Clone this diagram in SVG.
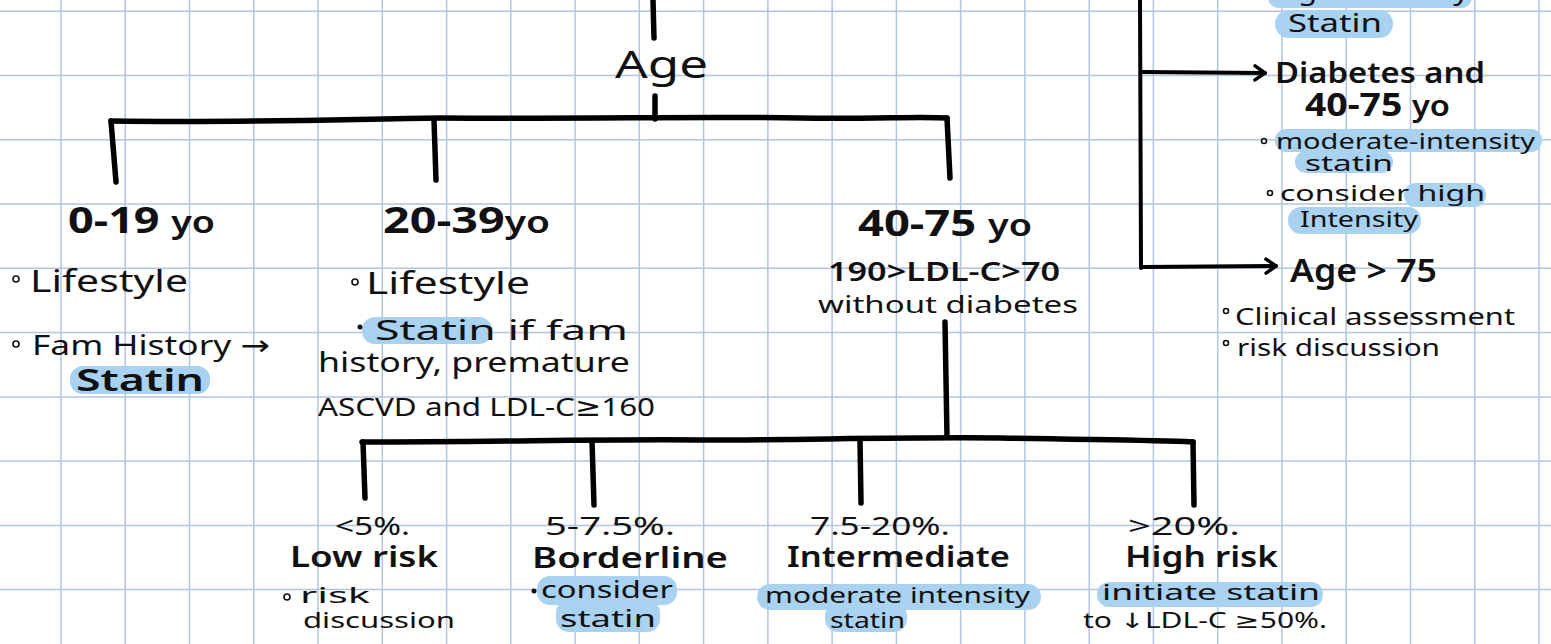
<svg xmlns="http://www.w3.org/2000/svg" width="1551" height="644" viewBox="0 0 1551 644">
<defs>
<style>
.t{font-family:"Noto Sans","DejaVu Sans",sans-serif;fill:#111;font-weight:400}
.b{font-weight:700}
.m{font-weight:600}
.g line{stroke:#b2c4e1;stroke-width:1.5}
.w{stroke:#000;stroke-width:5.5;fill:none;stroke-linecap:round;stroke-linejoin:round}
.a{stroke:#000;stroke-width:4;fill:none;stroke-linecap:round;stroke-linejoin:round}
.hl{fill:#a9d2f1}
.dot{fill:none;stroke:#111;stroke-width:1.6}
</style>
<marker id="chev" viewBox="0 0 14 18" refX="12" refY="9" markerWidth="14" markerHeight="18" markerUnits="userSpaceOnUse" orient="auto">
<path d="M2,2 L12,9 L2,16" fill="none" stroke="#000" stroke-width="3.5" stroke-linecap="round" stroke-linejoin="round"/>
</marker>
</defs>
<rect width="1551" height="644" fill="#ffffff"/>
<g class="g" id="grid">
<line x1="61" y1="0" x2="61" y2="644"/><line x1="125.3" y1="0" x2="125.3" y2="644"/><line x1="189.5" y1="0" x2="189.5" y2="644"/><line x1="253.8" y1="0" x2="253.8" y2="644"/><line x1="318" y1="0" x2="318" y2="644"/><line x1="382.3" y1="0" x2="382.3" y2="644"/><line x1="446.6" y1="0" x2="446.6" y2="644"/><line x1="510.8" y1="0" x2="510.8" y2="644"/><line x1="575.1" y1="0" x2="575.1" y2="644"/><line x1="639.3" y1="0" x2="639.3" y2="644"/><line x1="703.6" y1="0" x2="703.6" y2="644"/><line x1="767.9" y1="0" x2="767.9" y2="644"/><line x1="832.1" y1="0" x2="832.1" y2="644"/><line x1="896.4" y1="0" x2="896.4" y2="644"/><line x1="960.6" y1="0" x2="960.6" y2="644"/><line x1="1024.9" y1="0" x2="1024.9" y2="644"/><line x1="1089.2" y1="0" x2="1089.2" y2="644"/><line x1="1153.4" y1="0" x2="1153.4" y2="644"/><line x1="1217.7" y1="0" x2="1217.7" y2="644"/><line x1="1281.9" y1="0" x2="1281.9" y2="644"/><line x1="1346.2" y1="0" x2="1346.2" y2="644"/><line x1="1410.5" y1="0" x2="1410.5" y2="644"/><line x1="1474.7" y1="0" x2="1474.7" y2="644"/><line x1="1539" y1="0" x2="1539" y2="644"/>
<line x1="0" y1="11.3" x2="1551" y2="11.3"/><line x1="0" y1="75.6" x2="1551" y2="75.6"/><line x1="0" y1="139.8" x2="1551" y2="139.8"/><line x1="0" y1="204.1" x2="1551" y2="204.1"/><line x1="0" y1="268.3" x2="1551" y2="268.3"/><line x1="0" y1="332.6" x2="1551" y2="332.6"/><line x1="0" y1="396.9" x2="1551" y2="396.9"/><line x1="0" y1="461.1" x2="1551" y2="461.1"/><line x1="0" y1="525.4" x2="1551" y2="525.4"/><line x1="0" y1="589.6" x2="1551" y2="589.6"/>
</g>

<g id="connectors">
<path class="w" d="M653,0 L654,38"/>
<path class="w" d="M655,96 L655,119"/>
<path class="w" d="M111,121 C250,123 350,119 440,118 C600,119 700,116 800,118 C880,119 920,116 947,118"/>
<path class="w" d="M111,121 L116,182"/>
<path class="w" d="M434,120 L436,180"/>
<path class="w" d="M947,118 L950,178"/>
<path class="w" d="M945,322 L947,437"/>
<path class="w" d="M362,442 C500,442 600,439 700,440 C800,440 900,437 1000,438 C1100,440 1150,440 1193,442"/>
<path class="w" d="M363,442 L365,498"/>
<path class="w" d="M592,441 L594,505"/>
<path class="w" d="M860,440 L861,503"/>
<path class="w" d="M1193,442 L1194,505"/>
<path class="a" d="M1140,0 L1141,268"/>
<path class="a" d="M1142,72 L1265,73" marker-end="url(#chev)"/>
<path class="a" d="M1142,267 L1276,266" marker-end="url(#chev)"/>
</g>

<g id="node-age">
<text class="t" x="615" y="78" font-size="39" textLength="93" lengthAdjust="spacingAndGlyphs">Age</text>
</g>

<g id="node-0-19">
<text class="t b" x="68" y="233" font-size="36" textLength="147" lengthAdjust="spacingAndGlyphs">0-19 <tspan font-size="30" font-weight="600">yo</tspan></text>
<circle class="dot" cx="16" cy="279" r="3"/>
<text class="t" x="30" y="292" font-size="30" textLength="158" lengthAdjust="spacingAndGlyphs">Lifestyle</text>
<circle class="dot" cx="16" cy="344" r="3"/>
<text class="t" x="32" y="355" font-size="28" textLength="238" lengthAdjust="spacingAndGlyphs">Fam History →</text>
<rect class="hl" x="70" y="366" width="140" height="28" rx="13"/>
<text class="t m" x="76" y="391" font-size="30" textLength="128" lengthAdjust="spacingAndGlyphs">Statin</text>
</g>

<g id="node-20-39">
<text class="t b" x="383" y="233" font-size="36" textLength="167" lengthAdjust="spacingAndGlyphs">20-39<tspan font-size="30" font-weight="600">yo</tspan></text>
<circle class="dot" cx="355" cy="282" r="3"/>
<text class="t" x="366" y="294" font-size="30" textLength="164" lengthAdjust="spacingAndGlyphs">Lifestyle</text>
<rect class="hl" x="362" y="317" width="130" height="27" rx="13"/>
<circle cx="360" cy="327" r="2.5" fill="#111"/>
<text class="t" x="375" y="340" font-size="27" textLength="253" lengthAdjust="spacingAndGlyphs">Statin if fam</text>
<text class="t" x="318" y="372" font-size="27" textLength="312" lengthAdjust="spacingAndGlyphs">history, premature</text>
<text class="t" x="318" y="416" font-size="26" textLength="337" lengthAdjust="spacingAndGlyphs">ASCVD and LDL-C≥160</text>
</g>

<g id="node-40-75">
<text class="t b" x="858" y="236" font-size="36" textLength="174" lengthAdjust="spacingAndGlyphs">40-75 <tspan font-size="30" font-weight="600">yo</tspan></text>
<text class="t m" x="828" y="281" font-size="27" textLength="232" lengthAdjust="spacingAndGlyphs">190&gt;LDL-C&gt;70</text>
<text class="t" x="818" y="313" font-size="23" textLength="260" lengthAdjust="spacingAndGlyphs">without diabetes</text>
</g>

<g id="node-low">
<text class="t" x="335" y="535" font-size="26" textLength="75" lengthAdjust="spacingAndGlyphs">&lt;5%.</text>
<text class="t m" x="290" y="567" font-size="28" textLength="148" lengthAdjust="spacingAndGlyphs">Low risk</text>
<circle class="dot" cx="287" cy="597" r="3"/>
<text class="t" x="300" y="603" font-size="22" textLength="70" lengthAdjust="spacingAndGlyphs">risk</text>
<text class="t" x="303" y="628" font-size="22" textLength="152" lengthAdjust="spacingAndGlyphs">discussion</text>
</g>

<g id="node-borderline">
<text class="t" x="545" y="535" font-size="26" textLength="130" lengthAdjust="spacingAndGlyphs">5-7.5%.</text>
<text class="t m" x="532" y="568" font-size="28" textLength="196" lengthAdjust="spacingAndGlyphs">Borderline</text>
<rect class="hl" x="537" y="576" width="140" height="29" rx="13"/>
<rect class="hl" x="556" y="600" width="104" height="32" rx="13"/>
<circle cx="534" cy="591" r="2.5" fill="#111"/>
<text class="t" x="541" y="598" font-size="24" textLength="132" lengthAdjust="spacingAndGlyphs">consider</text>
<text class="t" x="560" y="627" font-size="24" textLength="96" lengthAdjust="spacingAndGlyphs">statin</text>
</g>

<g id="node-intermediate">
<text class="t" x="810" y="535" font-size="26" textLength="140" lengthAdjust="spacingAndGlyphs">7.5-20%.</text>
<text class="t m" x="787" y="567" font-size="28" textLength="223" lengthAdjust="spacingAndGlyphs">Intermediate</text>
<rect class="hl" x="757" y="584" width="284" height="26" rx="13"/>
<rect class="hl" x="825" y="603" width="82" height="29" rx="13"/>
<text class="t" x="765" y="603" font-size="22" textLength="265" lengthAdjust="spacingAndGlyphs">moderate intensity</text>
<text class="t" x="830" y="628" font-size="22" textLength="75" lengthAdjust="spacingAndGlyphs">statin</text>
</g>

<g id="node-high">
<text class="t" x="1128" y="535" font-size="26" textLength="112" lengthAdjust="spacingAndGlyphs">&gt;20%.</text>
<text class="t m" x="1125" y="567" font-size="28" textLength="153" lengthAdjust="spacingAndGlyphs">High risk</text>
<rect class="hl" x="1097" y="582" width="226" height="25" rx="12"/>
<text class="t" x="1102" y="600" font-size="22" textLength="218" lengthAdjust="spacingAndGlyphs">initiate statin</text>
<text class="t" x="1083" y="628" font-size="21" textLength="244" lengthAdjust="spacingAndGlyphs">to ↓LDL-C ≥50%.</text>
</g>

<g id="node-high-intensity">
<rect class="hl" x="1268" y="-14" width="204" height="22" rx="11"/>
<text class="t" x="1271" y="0" font-size="26" textLength="198" lengthAdjust="spacingAndGlyphs">high intensity</text>
<rect class="hl" x="1275" y="10" width="118" height="28" rx="14"/>
<text class="t" x="1288" y="32" font-size="26" textLength="94" lengthAdjust="spacingAndGlyphs">Statin</text>
</g>

<g id="node-diabetes">
<text class="t m" x="1275" y="83" font-size="28" textLength="210" lengthAdjust="spacingAndGlyphs">Diabetes and</text>
<text class="t b" x="1305" y="116" font-size="32" textLength="145" lengthAdjust="spacingAndGlyphs">40-75 <tspan font-size="28" font-weight="600">yo</tspan></text>
<rect class="hl" x="1275" y="129" width="267" height="23" rx="11"/>
<rect class="hl" x="1295" y="151" width="98" height="22" rx="11"/>
<circle class="dot" cx="1264" cy="141" r="2.5"/>
<text class="t" x="1276" y="149" font-size="22" textLength="259" lengthAdjust="spacingAndGlyphs">moderate-intensity</text>
<text class="t" x="1305" y="171" font-size="22" textLength="88" lengthAdjust="spacingAndGlyphs">statin</text>
<rect class="hl" x="1404" y="183" width="82" height="24" rx="12"/>
<rect class="hl" x="1288" y="207" width="133" height="27" rx="13"/>
<circle class="dot" cx="1270" cy="193" r="2.5"/>
<text class="t" x="1280" y="201" font-size="22" textLength="205" lengthAdjust="spacingAndGlyphs">consider high</text>
<text class="t" x="1300" y="227" font-size="22" textLength="118" lengthAdjust="spacingAndGlyphs">Intensity</text>
</g>

<g id="node-age75">
<text class="t m" x="1290" y="282" font-size="32" textLength="147" lengthAdjust="spacingAndGlyphs">Age &gt; 75</text>
<circle class="dot" cx="1226" cy="311" r="2.5"/>
<text class="t" x="1235" y="325" font-size="23" textLength="280" lengthAdjust="spacingAndGlyphs">Clinical assessment</text>
<circle class="dot" cx="1226" cy="343" r="2.5"/>
<text class="t" x="1237" y="356" font-size="23" textLength="203" lengthAdjust="spacingAndGlyphs">risk discussion</text>
</g>
</svg>
